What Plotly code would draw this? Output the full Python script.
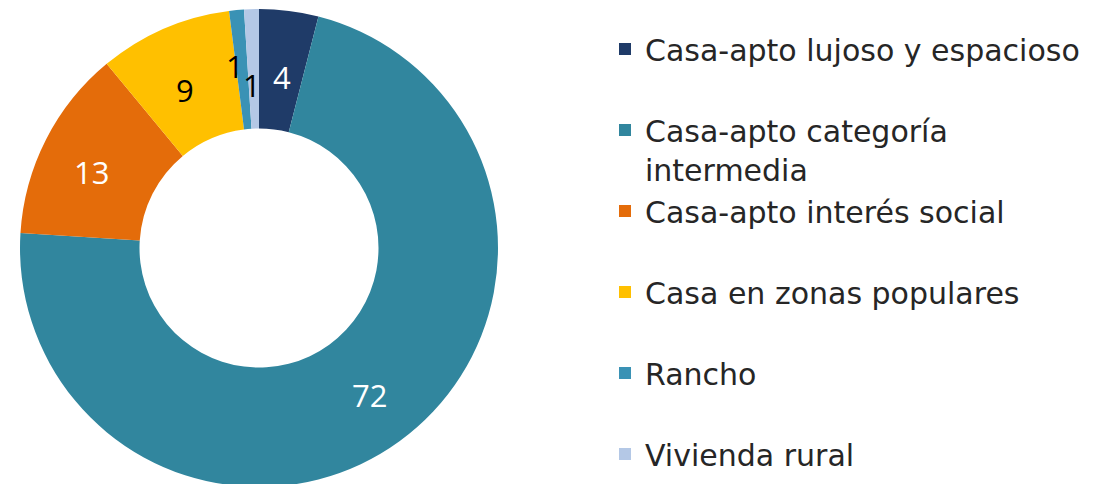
import math
import plotly.graph_objects as go

labels = [
    "Casa-apto lujoso y espacioso",
    "Casa-apto categoría<br>intermedia",
    "Casa-apto interés social",
    "Casa en zonas populares",
    "Rancho",
    "Vivienda rural",
]
values = [4, 72, 13, 9, 1, 1]
colors = ["#1F3B68", "#31869E", "#E46C0A", "#FFC000", "#3A92B5", "#B4C8E6"]
text_colors = ["white", "white", "white", "black", "black", "black"]

# legend entries: pad single-line entries (except the last) with a blank line for spacing
legend_labels = [
    l if ("<br>" in l or i == len(labels) - 1) else l + "<br> "
    for i, l in enumerate(labels)
]

W, H = 1099, 484
dom_x = [12 / W, 490 / W]
dom_y = [5 / H, 483 / H]
LABEL_FONT = "Open Sans"
LABEL_SIZE = 31

fig = go.Figure(
    go.Pie(
        labels=legend_labels,
        values=values,
        sort=False,
        direction="clockwise",
        rotation=0,
        hole=0.5,
        marker=dict(colors=colors, line=dict(width=0)),
        textinfo="none",
        domain=dict(x=dom_x, y=dom_y),
        showlegend=True,
    )
)

# data labels at each slice's mid-angle, in the middle of the ring
# (the two thin slices are staggered radially so their labels do not collide)
cx = (dom_x[0] + dom_x[1]) / 2
cy = (dom_y[0] + dom_y[1]) / 2
R = min((dom_x[1] - dom_x[0]) * W, (dom_y[1] - dom_y[0]) * H) / 2
total = sum(values)
cum = 0
small_radial = [0.78, 0.70]
small_shift = [-6, -2]
k = 0
for v, tc in zip(values, text_colors):
    mid = (cum + v / 2) / total * 2 * math.pi
    cum += v
    if v <= 1:
        r = R * small_radial[k]
        xs = small_shift[k]
        stretch = 1.0
        k += 1
    else:
        r = R * 0.74
        xs = 0
        stretch = 1.06
    fig.add_annotation(
        x=cx + stretch * r * math.sin(mid) / W,
        y=cy + r * math.cos(mid) / H,
        xref="paper",
        yref="paper",
        xanchor="center",
        yanchor="middle",
        xshift=xs,
        yshift=-4,
        text=str(v),
        showarrow=False,
        font=dict(family=LABEL_FONT, size=LABEL_SIZE, color=tc),
    )

fig.update_layout(
    width=W,
    height=H,
    margin=dict(l=0, r=0, t=0, b=0),
    paper_bgcolor="white",
    plot_bgcolor="white",
    legend=dict(
        x=597 / W,
        y=1 - 15 / H,
        xanchor="left",
        yanchor="top",
        valign="top",
        font=dict(family="DejaVu Sans", size=30, color="#262626"),
        bgcolor="rgba(0,0,0,0)",
        maxheight=600,
    ),
)

fig.write_html("out.html")
